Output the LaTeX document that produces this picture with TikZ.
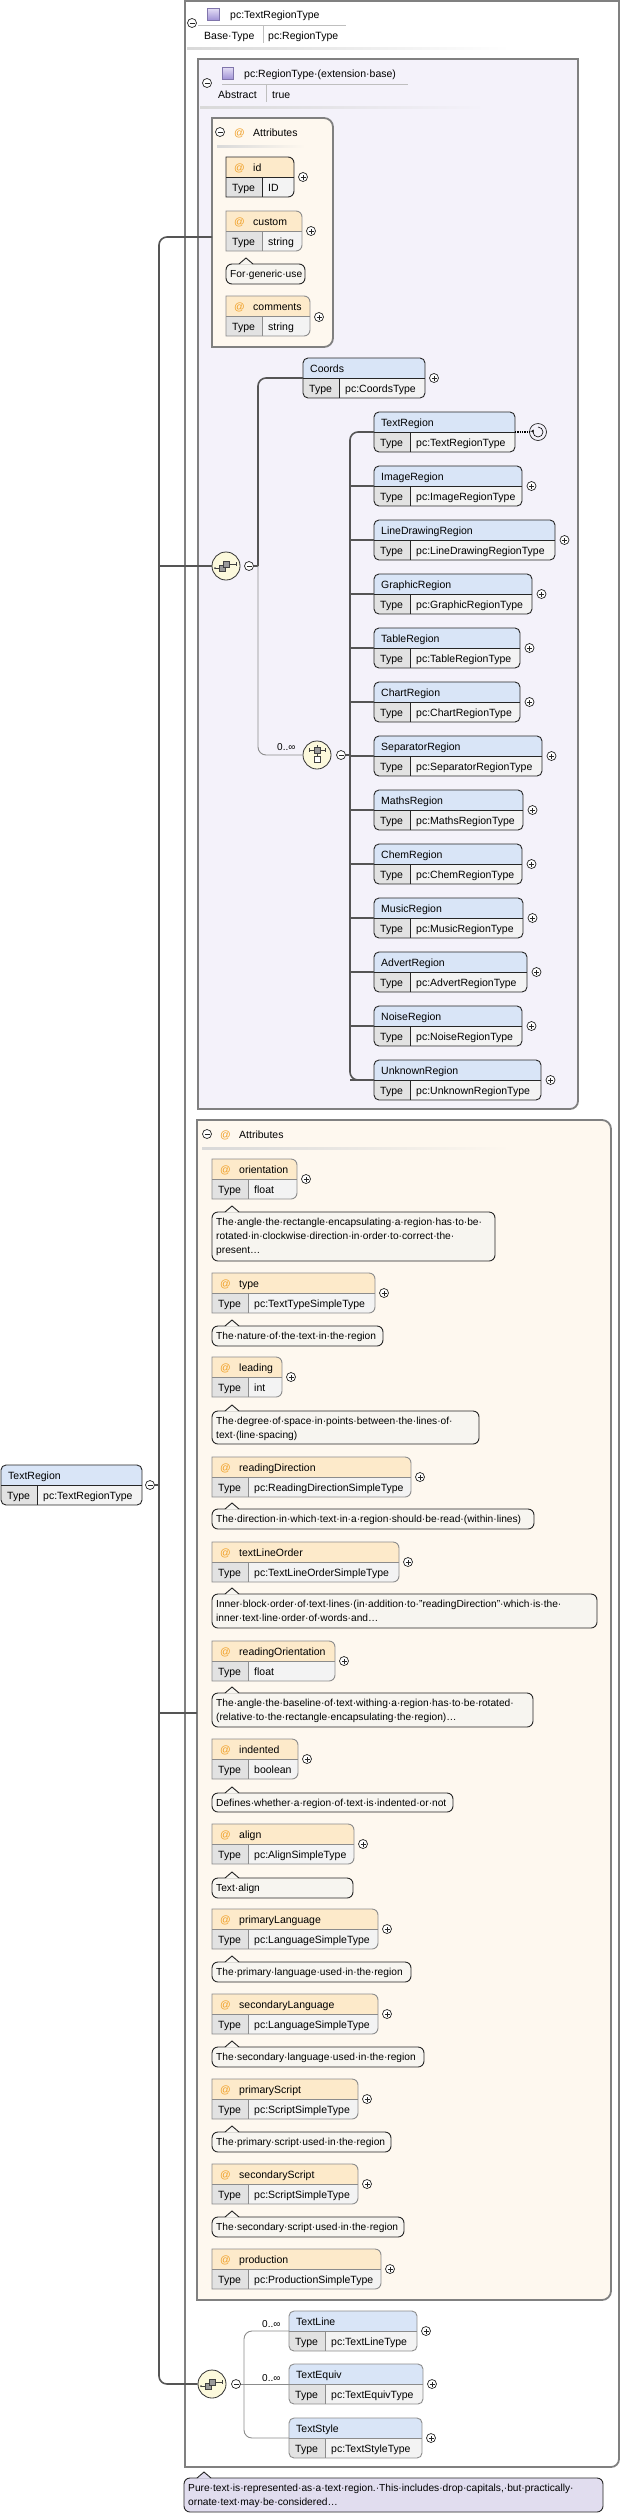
\documentclass[tikz,border=0pt]{standalone}
\usepackage{fontspec}
\setmainfont{Liberation Sans}
\usetikzlibrary{calc}

\definecolor{elemhead}{RGB}{217,229,247}
\definecolor{attrhead}{RGB}{253,234,202}
\definecolor{typecell}{RGB}{226,226,226}
\definecolor{valcell}{RGB}{243,243,243}
\definecolor{attrfill}{RGB}{254,248,239}
\definecolor{basefill}{RGB}{244,242,250}
\definecolor{notefill}{RGB}{247,245,240}
\definecolor{docfill}{RGB}{225,221,239}
\definecolor{iconfill}{RGB}{252,249,220}
\definecolor{atcol}{RGB}{240,160,40}
\definecolor{framecol}{RGB}{128,128,128}
\definecolor{optcol}{RGB}{140,140,140}
\definecolor{wirecol}{RGB}{85,85,85}
\definecolor{iconlight}{RGB}{230,224,246}
\definecolor{icondark}{RGB}{160,146,214}

\tikzset{
  boxtext/.style={anchor=base west, inner sep=0pt, font=\fontsize{10.5}{12}\selectfont},
  notetext/.style={anchor=base west, inner sep=0pt, font=\fontsize{10.2}{14}\selectfont},
  smalltext/.style={anchor=base west, inner sep=0pt, font=\fontsize{10}{12}\selectfont},
  solidline/.style={draw=black!85, line width=0.9pt},
  optline/.style={draw=optcol, line width=0.9pt},
  frame/.style={draw=framecol, line width=1.8pt},
  wire/.style={draw=wirecol, line width=1.6pt},
  optwire/.style={draw=optcol, line width=0.9pt},
  minus/.style={circle, draw=black!85, line width=0.7pt, fill=white, inner sep=0pt, minimum size=9pt,
    path picture={\draw[line width=0.7pt] ([xshift=2pt]path picture bounding box.west) -- ([xshift=-2pt]path picture bounding box.east);}},
  plus/.style={circle, draw=black!85, line width=0.7pt, fill=white, inner sep=0pt, minimum size=9pt,
    path picture={\draw[line width=0.7pt] ([xshift=2pt]path picture bounding box.west) -- ([xshift=-2pt]path picture bounding box.east)
      ([yshift=2pt]path picture bounding box.south) -- ([yshift=-2pt]path picture bounding box.north);}},
  iconnode/.style={circle, draw=black!80, line width=0.8pt, fill=iconfill, inner sep=0pt, minimum size=28pt},
  typeicon/.style={draw=icondark!80!black, line width=0.6pt, top color=iconlight, bottom color=icondark},
  headline/.style={draw=black!25, line width=0.8pt},
}

% box outlines: right corners rounded / only bottom right rounded
\newcommand{\rrpath}[5]{(#1+12,#4) -- (#1,#4) -- (#1,#2) -- (#1+12,#2) [rounded corners=#5] -- (#3,#2) -- (#3,#4) -- (#1+12,#4)}
\newcommand{\brpath}[5]{(#3,#2+20) -- (#3,#2) -- (#1,#2) -- (#1,#4) -- (#1+20,#4) [rounded corners=#5] -- (#3,#4) -- (#3,#2+20)}

% element: name, left, top, right, title, type
\newcommand{\elembox}[7][solidline]{%
  \begin{scope}
    \clip[rounded corners=5pt] (#3,#4) rectangle (#5,#4+40);
    \fill[elemhead] (#3,#4) rectangle (#5,#4+20);
    \fill[typecell] (#3,#4+20) rectangle (#3+36,#4+40);
    \fill[valcell] (#3+36,#4+20) rectangle (#5,#4+40);
  \end{scope}
  \draw[#1, rounded corners=5pt] (#3,#4) rectangle (#5,#4+40);
  \draw[#1] (#3,#4+20) -- (#5,#4+20) (#3+36,#4+20) -- (#3+36,#4+40);
  \node[boxtext] (#2-name) at (#3+7,#4+14) {#6};
  \node[boxtext] (#2-key) at (#3+6,#4+34) {Type};
  \node[boxtext] (#2-type) at (#3+42,#4+34) {#7};
  \coordinate (#2) at (#3,#4+20);
  \coordinate (#2-e) at (#5,#4+20);
}

% attribute: name, left, top, right, title, type
\newcommand{\attrbox}[7][optline]{%
  \begin{scope}
    \clip \rrpath{#3}{#4}{#5}{#4+40}{6pt};
    \fill[attrhead] (#3,#4) rectangle (#5,#4+20);
    \fill[typecell] (#3,#4+20) rectangle (#3+36,#4+40);
    \fill[valcell] (#3+36,#4+20) rectangle (#5,#4+40);
  \end{scope}
  \draw[#1] \rrpath{#3}{#4}{#5}{#4+40}{6pt};
  \draw[#1] (#3,#4+20) -- (#5,#4+20) (#3+36,#4+20) -- (#3+36,#4+40);
  \node[boxtext, text=atcol] (#2-at) at (#3+8,#4+14) {@};
  \node[boxtext] (#2-name) at (#3+27,#4+14) {#6};
  \node[boxtext] (#2-key) at (#3+6,#4+34) {Type};
  \node[boxtext] (#2-type) at (#3+42,#4+34) {#7};
  \coordinate (#2-e) at (#5,#4+20);
}

% note: name, left, top, right, bottom, lines
\newcommand{\notebox}[7][notefill]{%
  \draw[solidline, fill=#1, rounded corners=6pt] (#3,#4) rectangle (#5,#6);
  \fill[#1] (#3+13,#4+0.7) -- (#3+20,#4-6) -- (#3+27,#4+0.7) -- cycle;
  \draw[solidline] (#3+13,#4) -- (#3+20,#4-6) -- (#3+27,#4);
  \foreach \nline [count=\nk] in {#7}
    {\node[notetext] (#2-\nk) at (#3+4,#4+14*\nk-0.5) {\nline};}
}

\newcommand{\seqglyph}[1]{%
  \draw[black!75, line width=0.7pt] ([shift={(-11,2)}]#1.center) -- ([shift={(-7,2)}]#1.center)
    ([shift={(3,-2)}]#1.center) -- ([shift={(10,-2)}]#1.center) ([shift={(10,-4)}]#1.center) -- ([shift={(10,0)}]#1.center);
  \fill[black!75] ([shift={(-11,2)}]#1.center) circle (1pt);
  \filldraw[fill=black!40, draw=black!75, line width=0.6pt] ([shift={(-7,-1)}]#1.center) rectangle ([shift={(-1,5)}]#1.center);
  \filldraw[fill=black!40, draw=black!75, line width=0.6pt] ([shift={(-3,-5)}]#1.center) rectangle ([shift={(3,1)}]#1.center);
}
\newcommand{\choiceglyph}[1]{%
  \draw[black!75, line width=0.7pt] ([shift={(-8,-5)}]#1.center) -- ([shift={(8,-5)}]#1.center)
    ([shift={(-8,-7)}]#1.center) -- ([shift={(-8,-3)}]#1.center) ([shift={(8,-7)}]#1.center) -- ([shift={(8,-3)}]#1.center)
    ([shift={(0,-10)}]#1.center) -- ([shift={(0,1)}]#1.center);
  \filldraw[fill=black!40, draw=black!75, line width=0.6pt] ([shift={(-3,-8)}]#1.center) rectangle ([shift={(3,-2)}]#1.center);
  \filldraw[fill=white, draw=black!75, line width=0.6pt] ([shift={(-3,1)}]#1.center) rectangle ([shift={(3,7)}]#1.center);
}

\begin{document}
\begin{tikzpicture}[x=1pt,y=-1pt]
  \useasboundingbox (0,0) rectangle (621,2516);
  \fill[white] (0,0) rectangle (621,2516);

  % containers
  \filldraw[frame, fill=white] \brpath{185}{1}{619}{2467}{8pt};
  \filldraw[frame, fill=basefill] \brpath{198}{59}{578}{1109}{8pt};
  \filldraw[frame, fill=attrfill] \rrpath{212}{118}{333}{347}{9pt};
  \filldraw[frame, fill=attrfill] \rrpath{197}{1120}{611}{2300}{9pt};

  % header of pc:TextRegionType
  \node[minus] (outer-m) at (192,23) {};
  \draw[typeicon] (207,8) rectangle (219,20);
  \node[boxtext] (outer-title) at (230,18) {pc:TextRegionType};
  \draw[headline] (198,25) -- (346,25);
  \node[boxtext] (outer-key) at (204,39) {Base·Type};
  \draw[headline] (263,26) -- (263,43);
  \node[boxtext] (outer-val) at (268,39) {pc:RegionType};
  \shade[left color=black!15, middle color=black!55, right color=white] (187,47) rectangle (510,49);

  % header of pc:RegionType
  \node[minus] (base-m) at (207,83) {};
  \draw[typeicon] (222,67) rectangle (233,79);
  \node[boxtext] (base-title) at (244,77) {pc:RegionType·(extension·base)};
  \draw[headline] (222,84) -- (408,84);
  \node[boxtext] (base-key) at (218,98) {Abstract};
  \draw[headline] (266,85) -- (266,102);
  \node[boxtext] (base-val) at (272,98) {true};
  \shade[left color=black!15, middle color=black!55, right color=basefill] (200,106) rectangle (485,108);

  % first attribute group
  \node[minus] (attrA-m) at (220,132) {};
  \node[boxtext, text=atcol] (attrA-at) at (234,136) {@};
  \node[boxtext] (attrA-title) at (253,136) {Attributes};
  \shade[left color=black!15, middle color=black!45, right color=attrfill] (217,145) rectangle (305,147);
  \attrbox[solidline]{id}{226}{157}{294}{id}{ID}
  \node[plus] (id-p) at (303,177) {};
  \attrbox{custom}{226}{211}{302}{custom}{string}
  \node[plus] (custom-p) at (311,231) {};
  \notebox{custom-doc}{226}{264}{305}{284}{{For·generic·use}}
  \attrbox{comments}{226}{296}{310}{comments}{string}
  \node[plus] (comments-p) at (319,317) {};
  \coordinate (attrA) at (212,237);

  % second attribute group
  \node[minus] (attrB-m) at (207,1134) {};
  \node[boxtext, text=atcol] (attrB-at) at (220,1138) {@};
  \node[boxtext] (attrB-title) at (239,1138) {Attributes};
  \shade[left color=black!15, middle color=black!45, right color=attrfill] (202,1147) rectangle (510,1149);
  \coordinate (attrB) at (197,1713);
  \foreach \aname/\ay/\ax/\atype in {orientation/1159/297/float, type/1273/375/pc:TextTypeSimpleType,
      leading/1357/282/int, readingDirection/1457/411/pc:ReadingDirectionSimpleType,
      textLineOrder/1542/399/pc:TextLineOrderSimpleType, readingOrientation/1641/335/float,
      indented/1739/298/boolean, align/1824/354/pc:AlignSimpleType,
      primaryLanguage/1909/378/pc:LanguageSimpleType, secondaryLanguage/1994/378/pc:LanguageSimpleType,
      primaryScript/2079/358/pc:ScriptSimpleType, secondaryScript/2164/358/pc:ScriptSimpleType,
      production/2249/381/pc:ProductionSimpleType}
  {
    \attrbox{\aname}{212}{\ay}{\ax}{\aname}{\atype}
    \node[plus] (\aname-p) at (\ax+9,\ay+20) {};
  }
  \notebox{orientation-doc}{212}{1212}{495}{1261}{{The·angle·the·rectangle·encapsulating·a·region·has·to·be·},{rotated·in·clockwise·direction·in·order·to·correct·the·},{present…}}
  \notebox{type-doc}{212}{1326}{383}{1346}{{The·nature·of·the·text·in·the·region}}
  \notebox{leading-doc}{212}{1411}{479}{1444}{{The·degree·of·space·in·points·between·the·lines·of·},{text·(line·spacing)}}
  \notebox{readingDirection-doc}{212}{1509}{534}{1529}{{The·direction·in·which·text·in·a·region·should·be·read·(within·lines)}}
  \notebox{textLineOrder-doc}{212}{1594}{597}{1628}{{Inner·block·order·of·text·lines·(in·addition·to·"readingDirection"·which·is·the·},{inner·text·line·order·of·words·and…}}
  \notebox{readingOrientation-doc}{212}{1693}{533}{1727}{{The·angle·the·baseline·of·text·withing·a·region·has·to·be·rotated·},{(relative·to·the·rectangle·encapsulating·the·region)…}}
  \notebox{indented-doc}{212}{1793}{453}{1812}{{Defines·whether·a·region·of·text·is·indented·or·not}}
  \notebox{align-doc}{212}{1878}{353}{1898}{{Text·align}}
  \notebox{primaryLanguage-doc}{212}{1962}{411}{1982}{{The·primary·language·used·in·the·region}}
  \notebox{secondaryLanguage-doc}{212}{2047}{424}{2067}{{The·secondary·language·used·in·the·region}}
  \notebox{primaryScript-doc}{212}{2132}{391}{2152}{{The·primary·script·used·in·the·region}}
  \notebox{secondaryScript-doc}{212}{2217}{404}{2237}{{The·secondary·script·used·in·the·region}}

  % root element and main bus
  \elembox{root}{1}{1465}{142}{TextRegion}{pc:TextRegionType}
  \node[minus] (root-m) at (150,1485) {};
  \coordinate (bus) at (159,1485);
  \node[iconnode] (seqA) at (226,566) {};
  \node[iconnode] (seqB) at (212,2384) {};
  \draw[wire, rounded corners=8pt] (attrA) -- (attrA -| bus) -- (seqB -| bus) -- (seqB);
  \draw[wire] (root-m) -- (bus);
  \draw[wire] (seqA -| bus) -- (seqA);
  \draw[wire] (attrB -| bus) -- (attrB);
  \seqglyph{seqA}
  \seqglyph{seqB}

  % sequence in pc:RegionType
  \node[minus] (seqA-m) at (249,566) {};
  \coordinate (hubA) at (258,566);
  \elembox{coords}{303}{358}{425}{Coords}{pc:CoordsType}
  \node[plus] (coords-p) at (434,378) {};
  \node[iconnode] (choice) at (317,755) {};
  \choiceglyph{choice}
  \node[smalltext] (choice-l) at (277,750) {0..∞};
  \draw[wire] (seqA-m) -- (hubA);
  \draw[wire, rounded corners=8pt] (hubA) |- (coords);
  \draw[optwire, rounded corners=8pt] (hubA) |- (choice);

  % choice of regions
  \node[minus] (choice-m) at (341,755) {};
  \coordinate (hubB) at (350,755);
  \elembox{TextRegion}{374}{412}{515}{TextRegion}{pc:TextRegionType}
  \node[circle, draw=black!85, line width=0.7pt, inner sep=0pt, minimum size=17pt] (TextRegion-loop) at (538,432) {};
  \draw[densely dotted, line width=1.3pt] (TextRegion-e) -- (TextRegion-loop);
  \draw[line width=0.6pt, ->, >=stealth] ([shift={(0,-5)}]TextRegion-loop.center) arc[start angle=90, end angle=-210, radius=5pt];
  \foreach \rname/\rtop/\rright in {ImageRegion/466/522, LineDrawingRegion/520/555, GraphicRegion/574/532,
      TableRegion/628/520, ChartRegion/682/520, SeparatorRegion/736/542, MathsRegion/790/523,
      ChemRegion/844/522, MusicRegion/898/523, AdvertRegion/952/527, NoiseRegion/1006/522, UnknownRegion/1060/541}
  {
    \elembox{\rname}{374}{\rtop}{\rright}{\rname}{pc:\rname Type}
    \node[plus] (\rname-p) at (\rright+9.5,\rtop+20) {};
    \draw[wire] (\rname) -- (\rname -| hubB);
  }
  \draw[wire] (choice-m) -- (hubB);
  \draw[wire, rounded corners=8pt] (TextRegion) -| (hubB) |- (UnknownRegion);

  % sequence of pc:TextRegionType
  \node[minus] (seqB-m) at (236,2384) {};
  \coordinate (hubC) at (244,2384);
  \elembox[optline]{TextLine}{289}{2311}{417}{TextLine}{pc:TextLineType}
  \elembox[optline]{TextEquiv}{289}{2364}{423}{TextEquiv}{pc:TextEquivType}
  \elembox[optline]{TextStyle}{289}{2418}{422}{TextStyle}{pc:TextStyleType}
  \node[plus] (TextLine-p) at (426,2331) {};
  \node[plus] (TextEquiv-p) at (432,2384) {};
  \node[plus] (TextStyle-p) at (431,2438) {};
  \node[smalltext] (TextLine-l) at (262,2327) {0..∞};
  \node[smalltext] (TextEquiv-l) at (262,2381) {0..∞};
  \draw[optwire] (seqB-m) -- (hubC) -- (TextEquiv);
  \draw[optwire, rounded corners=8pt] (TextLine) -| (hubC) |- (TextStyle);

  % documentation of TextRegion
  \notebox[docfill]{doc}{184}{2478}{603}{2512}{{Pure·text·is·represented·as·a·text·region.·This·includes·drop·capitals,·but·practically·},{ornate·text·may·be·considered…}}
\end{tikzpicture}
\end{document}
